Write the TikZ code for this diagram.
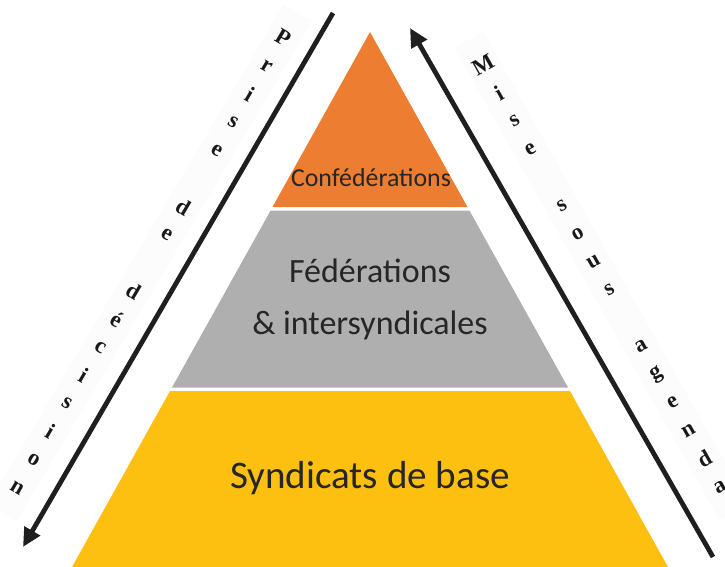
\documentclass[tikz,border=0pt]{standalone}
\usepackage{fontspec}
\setmainfont{Carlito}
\newfontfamily\lettrefont{Liberation Serif}
\usetikzlibrary{arrows.meta,calc}
\definecolor{confcol}{HTML}{ED7D31}
\definecolor{fedcol}{HTML}{AFAFAF}
\definecolor{basecol}{HTML}{FDC010}
\definecolor{txtcol}{HTML}{262626}
\definecolor{bandcol}{HTML}{FCFCFC}

\begin{document}
\begin{tikzpicture}[x=0.75pt,y=-0.75pt,
    niveau/.style={text=txtcol,align=center,inner sep=0pt},
    lettre/.style={font=\lettrefont\bfseries\fontsize{17}{17}\selectfont,text=black!90,inner sep=0pt},
    fleche/.style={line width=3.6pt,draw=black!88,-{Triangle[length=14pt,width=13pt]}},
    bande/.style={line width=25pt,draw=bandcol}]
  \useasboundingbox (0,0) rectangle (725,567);

  % pyramide
  \fill[confcol] (370,32) -- (467.5,207) -- (272.5,207) -- cycle;
  \fill[fedcol] (270.6,210.5) -- (469.4,210.5) -- (568,387.5) -- (172,387.5) -- cycle;
  \fill[basecol] (170,391) -- (570,391) -- (668,567) -- (72,567) -- cycle;

  \node[niveau,font=\fontsize{19.4}{20}\selectfont] (conf) at (371,178) {Confédérations};
  \node[niveau,font=\fontsize{25.5}{39}\selectfont] (fed) at (370,299) {Fédérations\\\& intersyndicales};
  \node[niveau,font=\fontsize{29.3}{30}\selectfont] (base) at (370,478) {Syndicats de base};

  % fleches
  \coordinate (dec-haut) at (333,13);
  \coordinate (dec-bas) at (23,547);
  \coordinate (agenda-bas) at (713,557);
  \coordinate (agenda-haut) at (410,28);
  \draw[fleche] (dec-haut) -- (dec-bas);
  \draw[fleche] (agenda-bas) -- (agenda-haut);

  % lettres empilees le long des fleches
  \coordinate (dec-deb) at (283,38);
  \coordinate (dec-fin) at (17,488);
  \draw[bande,shorten <=-22pt,shorten >=-22pt] (dec-deb) -- (dec-fin);
  \foreach \ch [count=\i from 0, evaluate=\i as \t using \i/16] in {P,r,i,s,e,{},d,e,{},d,é,c,i,s,i,o,n}
    \node[lettre,rotate=-30.6] (dec\i) at ($(dec-deb)!\t!(dec-fin)$) {\ch};

  \coordinate (agenda-deb) at (483,65);
  \coordinate (agenda-fin) at (720,487);
  \draw[bande,shorten <=-22pt,shorten >=-22pt] (agenda-deb) -- (agenda-fin);
  \foreach \ch [count=\i from 0, evaluate=\i as \t using \i/15] in {M,i,s,e,{},s,o,u,s,{},a,g,e,n,d,a}
    \node[lettre,rotate=29.3] (agenda\i) at ($(agenda-deb)!\t!(agenda-fin)$) {\ch};
\end{tikzpicture}
\end{document}
